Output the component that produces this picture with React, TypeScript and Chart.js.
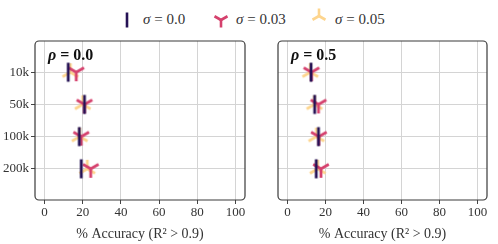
import React, { useEffect, useRef } from "react";
import { Chart, registerables } from "chart.js";

Chart.register(...registerables);

const categories = ["10k", "50k", "100k", "200k"];
const xTicks = [0, 20, 40, 60, 80, 100];
const sigmaLabels = ["0.0", "0.03", "0.05"];
const panelTitles = ["0.0", "0.5"];

const rho0_sigma000 = [12.4, 20.9, 18.2, 19.2];
const rho0_sigma003 = [16.6, 20.9, 19.2, 24.2];
const rho0_sigma005 = [13.5, 20.0, 18.4, 22.4];
const rho5_sigma000 = [12.4, 14.3, 16.3, 15.1];
const rho5_sigma003 = [12.6, 16.3, 16.5, 17.6];
const rho5_sigma005 = [12.0, 14.2, 15.2, 15.9];

const COLORS = ["#251255", "#d5416d", "#fdd58e"];
const FONT = "'Liberation Serif', 'DejaVu Serif', serif";
const TEXT = "#333333";

function makeMarker(kind: number, color: string): HTMLCanvasElement {
  const size = 24;
  const c = document.createElement("canvas");
  c.width = size;
  c.height = size;
  const g = c.getContext("2d")!;
  const cx = size / 2;
  const cy = size / 2;
  g.strokeStyle = color;
  g.lineWidth = 2.8;
  g.lineCap = "butt";
  g.beginPath();
  if (kind === 0) {
    g.moveTo(cx, cy - 9.5);
    g.lineTo(cx, cy + 9.5);
  } else {
    const r = 9;
    const s = kind === 1 ? 1 : -1; // 1: tri_down (Y), -1: tri_up
    const pts = [
      [0, s * r],
      [-0.866 * r, -s * 0.5 * r],
      [0.866 * r, -s * 0.5 * r],
    ];
    for (const [dx, dy] of pts) {
      g.moveTo(cx, cy);
      g.lineTo(cx + dx, cy + dy);
    }
  }
  g.stroke();
  return c;
}

function framePlugin(title: string) {
  return {
    id: "frame",
    afterDraw(chart: any) {
      const { ctx, chartArea: a } = chart;
      ctx.save();
      ctx.strokeStyle = "#3a3a3a";
      ctx.lineWidth = 1.2;
      ctx.beginPath();
      (ctx as any).roundRect(a.left, a.top, a.right - a.left, a.bottom - a.top, 4);
      ctx.stroke();
      ctx.fillStyle = "#111";
      ctx.textBaseline = "alphabetic";
      ctx.font = `bold italic 16px ${FONT}`;
      const x0 = a.left + 13;
      const y0 = a.top + 19;
      ctx.fillText("ρ", x0, y0);
      const w = ctx.measureText("ρ").width;
      ctx.font = `bold 16px ${FONT}`;
      ctx.fillText(" = " + title, x0 + w, y0);
      ctx.restore();
    },
  };
}

function Panel({ idx, left, width }: { idx: number; left: number; width: number }) {
  const ref = useRef<HTMLCanvasElement>(null);
  useEffect(() => {
    const series =
      idx === 0
        ? [rho0_sigma000, rho0_sigma003, rho0_sigma005]
        : [rho5_sigma000, rho5_sigma003, rho5_sigma005];
    const datasets = series.map((vals, k) => ({
      label: "σ = " + sigmaLabels[k],
      data: vals.map((v, i) => ({ x: v, y: i })),
      pointStyle: makeMarker(k, COLORS[k]) as any,
      pointRadius: 10,
      borderColor: COLORS[k],
      backgroundColor: COLORS[k],
      showLine: false,
    }));
    const isLeft = idx === 0;
    const chart = new Chart(ref.current!, {
      type: "scatter",
      data: { datasets },
      options: {
        animation: false,
        responsive: false,
        layout: { padding: { top: 8, right: isLeft ? 4 : 2, left: 0, bottom: 0 } },
        plugins: { legend: { display: false }, tooltip: { enabled: false } },
        scales: {
          x: {
            type: "linear",
            min: -5,
            max: 105,
            afterBuildTicks: (s: any) => {
              s.ticks = xTicks.map((v) => ({ value: v }));
            },
            afterFit: (s: any) => {
              s.height = 44;
              s.paddingLeft = 0;
              s.paddingRight = 0;
            },
            grid: { color: "#d4d4d4", lineWidth: 1, tickColor: "#444", tickLength: 4, drawTicks: true },
            border: { display: false },
            ticks: { color: TEXT, font: { family: FONT, size: 13 }, padding: 1, maxRotation: 0 },
            title: {
              display: true,
              text: "% Accuracy (R² > 0.9)",
              color: TEXT,
              font: { family: FONT, size: 14 },
              padding: { top: 4, bottom: 1 },
            },
          },
          y: {
            type: "linear",
            reverse: true,
            min: -0.97,
            max: 3.97,
            afterBuildTicks: (s: any) => {
              s.ticks = [0, 1, 2, 3].map((v) => ({ value: v }));
            },
            afterFit: (s: any) => {
              s.width = isLeft ? 35 : 16;
              s.paddingTop = 0;
              s.paddingBottom = 0;
            },
            grid: { color: "#d4d4d4", lineWidth: 1, tickColor: "#444", tickLength: 4, drawTicks: isLeft },
            border: { display: false },
            ticks: {
              display: isLeft,
              color: TEXT,
              font: { family: FONT, size: 13 },
              padding: 2,
              callback: (v: any) => categories[v as number] ?? "",
            },
          },
        },
      },
      plugins: [framePlugin(panelTitles[idx])],
    });
    return () => chart.destroy();
  }, [idx]);
  return (
    <canvas
      ref={ref}
      width={width}
      height={214}
      style={{ position: "absolute", left, top: 30, width, height: 214 }}
    />
  );
}

function LegendMarker({ kind, color }: { kind: number; color: string }) {
  const r = 7.5;
  const s = kind === 1 ? 1 : -1;
  return (
    <svg width={20} height={20} viewBox="-10 -10 20 20" style={{ display: "block" }}>
      {kind === 0 ? (
        <line x1={0} y1={-7.5} x2={0} y2={7.5} stroke={color} strokeWidth={2.6} />
      ) : (
        [
          [0, s * r],
          [-0.866 * r, -s * 0.5 * r],
          [0.866 * r, -s * 0.5 * r],
        ].map(([dx, dy], i) => (
          <line key={i} x1={0} y1={0} x2={dx} y2={dy} stroke={color} strokeWidth={2.6} />
        ))
      )}
    </svg>
  );
}

const legendMarkerX = [117, 211, 309];
const legendTextX = [143, 236, 335];

export default function App() {
  return (
    <div style={{ position: "fixed", left: 0, top: 0, width: 498, height: 244, background: "#fff", overflow: "hidden" }}>
      {sigmaLabels.map((lab, k) => (
        <React.Fragment key={k}>
          <div style={{ position: "absolute", left: legendMarkerX[k], top: k === 2 ? 6 : 10 }}>
            <LegendMarker kind={k} color={COLORS[k]} />
          </div>
          <div
            style={{
              position: "absolute",
              left: legendTextX[k],
              top: 10,
              fontFamily: FONT,
              fontSize: 15,
              lineHeight: "18px",
              color: TEXT,
              whiteSpace: "nowrap",
            }}
          >
            <i>σ</i> = {lab}
          </div>
        </React.Fragment>
      ))}
      <Panel idx={0} left={0} width={256} />
      <Panel idx={1} left={262} width={236} />
    </div>
  );
}
